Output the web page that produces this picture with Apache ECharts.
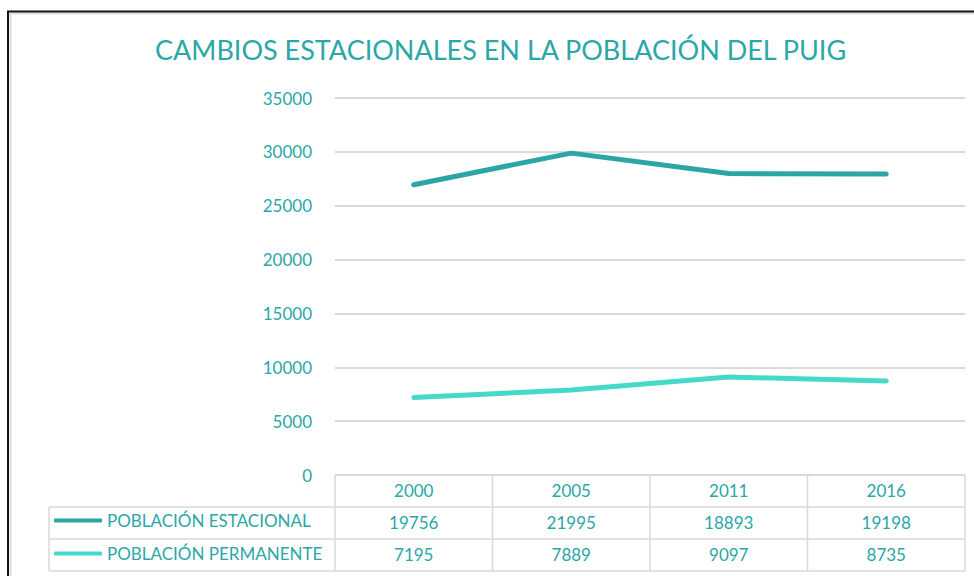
<!DOCTYPE html>
<html>
<head>
<meta charset="utf-8">
<script src="https://cdn.jsdelivr.net/npm/echarts@6/dist/echarts.min.js"></script>
<style>
  html, body { margin: 0; padding: 0; background: #fff; }
  #chart { width: 974px; height: 576px; }
</style>
</head>
<body>
<div id="chart"></div>
<script>
// --- data ---
var years = ['2000', '2005', '2011', '2016'];
var estacional = [19756, 21995, 18893, 19198];
var permanente = [7195, 7889, 9097, 8735];
var seriesNames = ['POBLACIÓN ESTACIONAL', 'POBLACIÓN PERMANENTE'];
var yMax = 35000;
var yStep = 5000;

// --- look ---
var teal = '#2BA5A5';
var aqua = '#45D9CA';
var ink = '#2AA7A7';
var rule = '#D9D9D9';
var font = 'Lato';

var chart = echarts.init(document.getElementById('chart'), null, { renderer: 'svg' });

chart.setOption({
  animation: false,
  title: {
    text: 'CAMBIOS ESTACIONALES EN LA POBLACIÓN DEL PUIG',
    left: 150,
    top: 31,
    textStyle: { color: ink, fontFamily: font, fontSize: 27, fontWeight: 'normal' }
  },
  legend: {
    data: seriesNames,
    orient: 'vertical',
    left: 54,
    top: 512,
    padding: 0,
    itemGap: 16,
    itemWidth: 48,
    itemHeight: 4,
    icon: 'roundRect',
    selectedMode: false,
    textStyle: { color: ink, fontFamily: font, fontSize: 17 }
  },
  grid: { left: 335, right: 9, top: 98, bottom: 101 },
  xAxis: {
    type: 'category',
    data: years,
    boundaryGap: true,
    axisLine: { show: false },
    axisTick: { show: false },
    axisLabel: { show: false }
  },
  yAxis: {
    type: 'value',
    min: 0,
    max: yMax,
    interval: yStep,
    axisLine: { show: false },
    axisTick: { show: false },
    axisLabel: { color: ink, fontFamily: font, fontSize: 17, margin: 23,
      formatter: function(v) { return String(v); } },
    splitLine: { lineStyle: { color: rule, width: 2 } }
  },
  series: [
    {
      name: seriesNames[1],
      type: 'line',
      stack: 'pob',
      data: permanente,
      symbol: 'none',
      lineStyle: { color: aqua, width: 5, cap: 'round' },
      itemStyle: { color: aqua }
    },
    {
      name: seriesNames[0],
      type: 'line',
      stack: 'pob',
      data: estacional,
      symbol: 'none',
      lineStyle: { color: teal, width: 5, cap: 'round' },
      itemStyle: { color: teal }
    }
  ]
});

// --- data table under the plot, placed from the axis scales ---
var centers = years.map(function(y, i) { return chart.convertToPixel({ xAxisIndex: 0 }, i); });
var colW = centers[1] - centers[0];
var xL = centers[0] - colW / 2;
var xR = centers[centers.length - 1] + colW / 2;
var y0 = chart.convertToPixel({ yAxisIndex: 0 }, 0);
var rowH = 32;
var tableLeft = 49;
var rows = [years, estacional, permanente];

var g = [];
function line(x1, y1, x2, y2) {
  g.push({ type: 'line', silent: true, shape: { x1: x1, y1: y1, x2: x2, y2: y2 },
    style: { stroke: rule, lineWidth: 1.5 } });
}
// horizontal rules
line(xL, y0, xR, y0);
for (var r = 1; r <= rows.length; r++) line(tableLeft, y0 + r * rowH, xR, y0 + r * rowH);
// vertical rules
line(tableLeft, y0 + rowH, tableLeft, y0 + rows.length * rowH);
for (var c = 0; c <= years.length; c++) {
  var xc = xL + c * colW;
  line(xc, y0, xc, y0 + rows.length * rowH);
}
// cell texts
rows.forEach(function(vals, r) {
  vals.forEach(function(v, c) {
    g.push({ type: 'text', silent: true, x: centers[c], y: y0 + r * rowH + rowH / 2 - 1,
      style: { text: String(v), fill: ink, font: '17px ' + font, align: 'center', verticalAlign: 'middle' } });
  });
});
// outer frame
g.push({ type: 'polyline', silent: true, shape: { points: [[10.5, 576], [10.5, 13.5], [974, 13.5]] },
  style: { stroke: '#DDDDDD', fill: null, lineWidth: 2 } });
g.push({ type: 'polyline', silent: true, shape: { points: [[8, 576], [8, 11.5], [974, 11.5]] },
  style: { stroke: '#111', fill: null, lineWidth: 2 } });

chart.setOption({ graphic: g });
</script>
</body>
</html>
